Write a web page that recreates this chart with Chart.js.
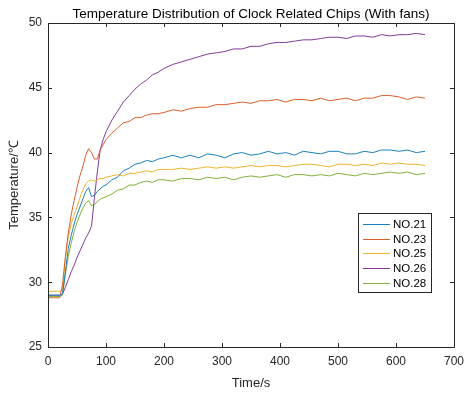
<!DOCTYPE html>
<html>
<head>
<meta charset="utf-8">
<script src="https://cdn.jsdelivr.net/npm/chart.js@4/dist/chart.umd.min.js"></script>
<style>
  html, body { margin: 0; padding: 0; background: #fff; }
  #wrap { width: 471px; height: 394px; }
</style>
</head>
<body>
<div id="wrap"><canvas id="chart" width="471" height="394"></canvas></div>
<script>
  const FONT = '"Liberation Sans", Arial, sans-serif';
  const INK = '#262626';
  const TITLE = 'Temperature Distribution of Clock Related Chips (With fans)';

  const times = [0, 10, 20, 25, 30, 35, 40, 45, 50, 55, 60, 65, 70, 75, 80, 85, 90, 95, 100,
    110, 120, 130, 140, 150, 160, 170, 180, 190, 200,
    215, 230, 245, 260, 275, 290, 305, 320, 335, 350, 365, 380, 395, 410, 425, 440,
    455, 470, 485, 500, 515, 530, 545, 560, 575, 590, 605, 620, 635, 650];

  const no21 = [29.0, 29.0, 29.0, 29.1, 30.8, 32.6, 33.6, 34.5, 35.2, 35.8, 36.4, 37.0, 37.3, 36.6, 36.7, 37.0, 37.2, 37.4, 37.5,
    37.9, 38.1, 38.6, 38.8, 39.1, 39.2, 39.4, 39.3, 39.5, 39.6,
    39.8, 39.6, 39.8, 39.6, 39.9, 39.8, 39.6, 39.9, 40.0, 39.8, 39.9, 40.1, 39.9, 40.0, 39.8, 40.1,
    40.0, 39.9, 40.1, 40.1, 39.9, 39.9, 40.1, 40.0, 40.2, 40.2, 40.1, 40.2, 40.0, 40.1];

  const no23 = [28.8, 28.8, 28.8, 29.8, 32.0, 33.8, 35.2, 36.3, 37.3, 38.2, 38.9, 39.8, 40.3, 40.0, 39.5, 39.5, 40.2, 40.6, 41.0,
    41.5, 41.9, 42.3, 42.4, 42.7, 42.7, 42.9, 43.0, 43.0, 43.1,
    43.3, 43.2, 43.4, 43.5, 43.5, 43.7, 43.7, 43.8, 43.9, 43.8, 44.0, 44.0, 44.1, 43.9, 44.1, 44.1,
    44.0, 44.2, 44.0, 44.1, 44.2, 44.0, 44.2, 44.2, 44.4, 44.4, 44.3, 44.1, 44.3, 44.2];

  const no25 = [29.3, 29.3, 29.3, 29.4, 31.8, 33.5, 34.5, 35.2, 35.8, 36.5, 37.1, 37.6, 37.8, 37.9, 37.8, 37.9, 38.0, 38.0, 38.1,
    38.2, 38.3, 38.2, 38.4, 38.4, 38.5, 38.6, 38.5, 38.7, 38.7,
    38.7, 38.8, 38.7, 38.8, 38.9, 38.8, 38.9, 38.8, 38.9, 39.0, 38.9, 39.0, 39.0, 38.9, 39.0, 39.1,
    39.1, 39.0, 38.9, 39.1, 39.1, 39.0, 39.1, 39.0, 39.2, 39.1, 39.2, 39.1, 39.1, 39.0];

  const no26 = [29.0, 29.0, 29.0, 29.1, 29.6, 30.2, 30.8, 31.3, 31.9, 32.4, 32.9, 33.4, 33.8, 34.3, 36.5, 38.5, 40.2, 41.0, 41.6,
    42.5, 43.2, 43.9, 44.4, 44.9, 45.3, 45.6, 46.0, 46.2, 46.5,
    46.8, 47.0, 47.2, 47.4, 47.6, 47.7, 47.8, 48.0, 48.0, 48.2, 48.2, 48.4, 48.5, 48.5, 48.6, 48.7,
    48.7, 48.8, 48.9, 48.9, 48.8, 49.0, 49.0, 48.9, 49.1, 49.0, 49.1, 49.1, 49.2, 49.1];

  const no28 = [28.9, 28.9, 28.9, 29.0, 30.6, 32.0, 33.0, 33.9, 34.6, 35.2, 35.7, 36.1, 36.3, 35.9, 36.0, 36.2, 36.4, 36.5, 36.6,
    36.8, 37.1, 37.2, 37.5, 37.5, 37.7, 37.8, 37.7, 37.9, 37.9,
    37.8, 38.0, 38.0, 37.9, 38.1, 38.0, 38.1, 37.9, 38.1, 38.2, 38.1, 38.2, 38.3, 38.1, 38.3, 38.3,
    38.2, 38.3, 38.2, 38.4, 38.3, 38.2, 38.4, 38.3, 38.4, 38.5, 38.4, 38.5, 38.3, 38.4];

  const seriesNames = ['NO.21', 'NO.23', 'NO.25', 'NO.26', 'NO.28'];
  const seriesValues = [no21, no23, no25, no26, no28];
  const seriesColors = ['#1a7fc0', '#db5f2a', '#edb42e', '#86399a', '#7fb13c'];

  const xTicks = [0, 100, 200, 300, 400, 500, 600, 700];
  const yTicks = [25, 30, 35, 40, 45, 50];

  // title centred over the axes, like MATLAB does
  const titlePlugin = {
    id: 'axesTitle',
    afterDraw(chart) {
      const { ctx, chartArea: a } = chart;
      ctx.save();
      ctx.font = '13.5px ' + FONT;
      ctx.fillStyle = '#000';
      ctx.textAlign = 'center';
      ctx.textBaseline = 'middle';
      ctx.fillText(TITLE, (a.left + a.right) / 2, 14);
      ctx.restore();
    }
  };

  // MATLAB-style box with inward ticks
  const boxPlugin = {
    id: 'box',
    afterDraw(chart) {
      const { ctx, chartArea: a, scales: { x, y } } = chart;
      ctx.save();
      ctx.strokeStyle = INK;
      ctx.lineWidth = 1;
      ctx.beginPath();
      ctx.rect(Math.round(a.left) + 0.5, Math.round(a.top) + 0.5,
        Math.round(a.right - a.left), Math.round(a.bottom - a.top));
      const len = 4;
      xTicks.forEach((v) => {
        const px = Math.round(x.getPixelForValue(v)) + 0.5;
        ctx.moveTo(px, a.bottom); ctx.lineTo(px, a.bottom - len);
        ctx.moveTo(px, a.top); ctx.lineTo(px, a.top + len);
      });
      yTicks.forEach((v) => {
        const py = Math.round(y.getPixelForValue(v)) + 0.5;
        ctx.moveTo(a.left, py); ctx.lineTo(a.left + len, py);
        ctx.moveTo(a.right, py); ctx.lineTo(a.right - len, py);
      });
      ctx.stroke();
      ctx.restore();
    }
  };

  // legend box inside the axes, lower right
  const legendPlugin = {
    id: 'boxLegend',
    afterDraw(chart) {
      const { ctx } = chart;
      const left = 358, top = 213, w = 73, h = 79;
      ctx.save();
      ctx.fillStyle = '#fff';
      ctx.fillRect(left, top, w, h);
      ctx.strokeStyle = INK;
      ctx.lineWidth = 1;
      ctx.strokeRect(left + 0.5, top + 0.5, w, h);
      ctx.font = '11.5px ' + FONT;
      ctx.textBaseline = 'middle';
      ctx.fillStyle = '#000';
      chart.data.datasets.forEach((ds, i) => {
        const yy = Math.round(top + 11 + i * 14.7) + 0.5;
        ctx.strokeStyle = ds.borderColor;
        ctx.beginPath();
        ctx.moveTo(left + 5, yy); ctx.lineTo(left + 32, yy);
        ctx.stroke();
        ctx.fillText(ds.label, left + 35, yy);
      });
      ctx.restore();
    }
  };

  const datasets = seriesNames.map((name, i) => ({
    label: name,
    data: times.map((t, k) => ({ x: t, y: seriesValues[i][k] })),
    borderColor: seriesColors[i],
    borderWidth: 1,
    pointRadius: 0,
    tension: 0,
    fill: false
  }));

  new Chart(document.getElementById('chart'), {
    type: 'line',
    data: { datasets },
    options: {
      responsive: false,
      animation: false,
      layout: { padding: { left: 0, right: 12, top: 23, bottom: 0 } },
      plugins: {
        legend: { display: false },
        tooltip: { enabled: false },
        title: { display: false }
      },
      scales: {
        x: {
          type: 'linear',
          min: 0,
          max: 700,
          afterBuildTicks: (s) => { s.ticks = xTicks.map((v) => ({ value: v })); },
          afterFit: (s) => { s.height = 47; },
          grid: { display: false, drawTicks: false },
          border: { display: false },
          ticks: { color: INK, padding: 7, font: { family: FONT, size: 12 }, maxRotation: 0 },
          title: {
            display: true,
            text: 'Time/s',
            color: INK,
            font: { family: FONT, size: 13 },
            padding: { top: 0, bottom: 3 }
          }
        },
        y: {
          min: 25,
          max: 50,
          afterBuildTicks: (s) => { s.ticks = yTicks.map((v) => ({ value: v })); },
          afterFit: (s) => { s.width = 48; },
          grid: { display: false, drawTicks: false },
          border: { display: false },
          ticks: { color: INK, padding: 6, font: { family: FONT, size: 12 } },
          title: {
            display: true,
            text: 'Temperature/℃',
            color: INK,
            font: { family: FONT, size: 13 },
            padding: { top: 7, bottom: 0 }
          }
        }
      }
    },
    plugins: [boxPlugin, legendPlugin, titlePlugin]
  });
</script>
</body>
</html>
